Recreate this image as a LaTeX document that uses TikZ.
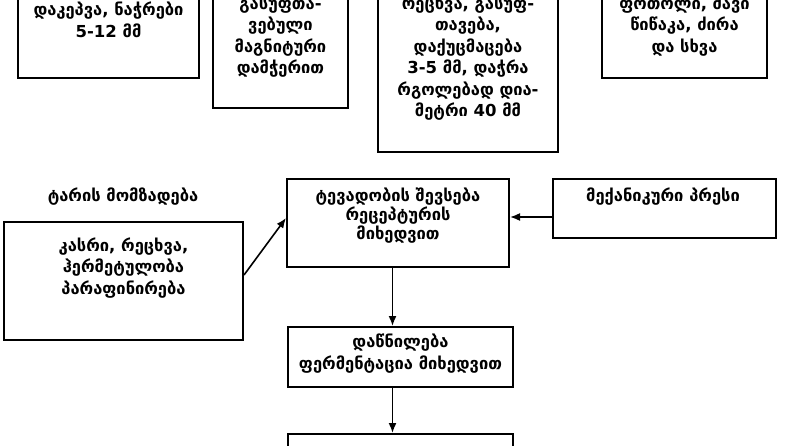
\documentclass[tikz,border=0pt]{standalone}
\usepackage{fontspec}
\setmainfont{DejaVu Sans}
\usetikzlibrary{arrows.meta}
\tikzset{
  box/.style={draw=black, line width=2pt, fill=none, inner sep=0pt},
  txt/.style={align=center, inner sep=0pt, font=\bfseries\fontsize{16.5}{21.5}\selectfont},
  txtc/.style={align=center, inner sep=0pt, font=\bfseries\fontsize{16.5}{19}\selectfont},
  arr/.style={line width=1.6pt, -{Latex[length=10pt,width=8pt]}}
}
\begin{document}
\begin{tikzpicture}[x=1pt,y=-1pt]
\useasboundingbox (0,0) rectangle (800,445);
\clip (0,0) rectangle (800,445);
\fill[white] (0,0) rectangle (800,445);
% top boxes (cut at top)
\node[box, minimum width=181pt, minimum height=127pt] (b1) at (108.5,14) {};
\node[box, minimum width=135pt, minimum height=148pt] (b2) at (280.5,34) {};
\node[box, minimum width=180pt, minimum height=192pt] (b3) at (468,56) {};
\node[box, minimum width=165pt, minimum height=118pt] (b4) at (684.5,19) {};
\node[txt] (t1) at (108.5,20) {დაკეპვა, ნაჭრები\\5-12 მმ};
\node[txt] (t2) at (280.5,36.5) {გასუფთა-\\ვებული\\მაგნიტური\\დამჭერით};
\node[txt] (t3) at (468,58) {რეცხვა, გასუფ-\\თავება,\\დაქუცმაცება\\3-5 მმ, დაჭრა\\რგოლებად დია-\\მეტრი 40 მმ};
\node[txt] (t4) at (684.5,26) {ფოთოლი, შავი\\წიწაკა, ძირა\\და სხვა};
% middle
\node[txt] (lbl) at (123,197) {ტარის მომზადება};
\node[box, minimum width=239pt, minimum height=118pt] (lb) at (123.5,281) {};
\node[txt] (tlb) at (123.5,268) {კასრი, რეცხვა,\\ჰერმეტულობა\\პარაფინირება};
\node[box, minimum width=222pt, minimum height=88pt] (cb) at (398,223) {};
\node[txtc] (tcb) at (398,216) {ტევადობის შევსება\\რეცეპტურის\\მიხედვით};
\node[box, minimum width=223pt, minimum height=59pt] (pb) at (664.5,208.5) {};
\node[txt] (tpb) at (663,197) {მექანიკური პრესი};
\node[box, minimum width=225pt, minimum height=60pt] (db) at (400.5,357) {};
\node[txtc, font=\bfseries\fontsize{16.5}{22}\selectfont] (tdb) at (400.5,354) {დაწნილება\\ფერმენტაცია მიხედვით};
\node[box, minimum width=225pt, minimum height=60pt, anchor=north] (eb) at (400.5,433) {};
% connectors
\coordinate (ax) at (392.5,0);
\coordinate (py) at (0,217);
\draw[arr] ([yshift=6pt]lb.east) -- ([yshift=5pt]cb.west);
\draw[arr] (pb.west |- py) -- (cb.east |- py);
\draw[arr] (cb.south -| ax) -- (db.north -| ax);
\draw[arr] (db.south -| ax) -- (eb.north -| ax);
\end{tikzpicture}
\end{document}
